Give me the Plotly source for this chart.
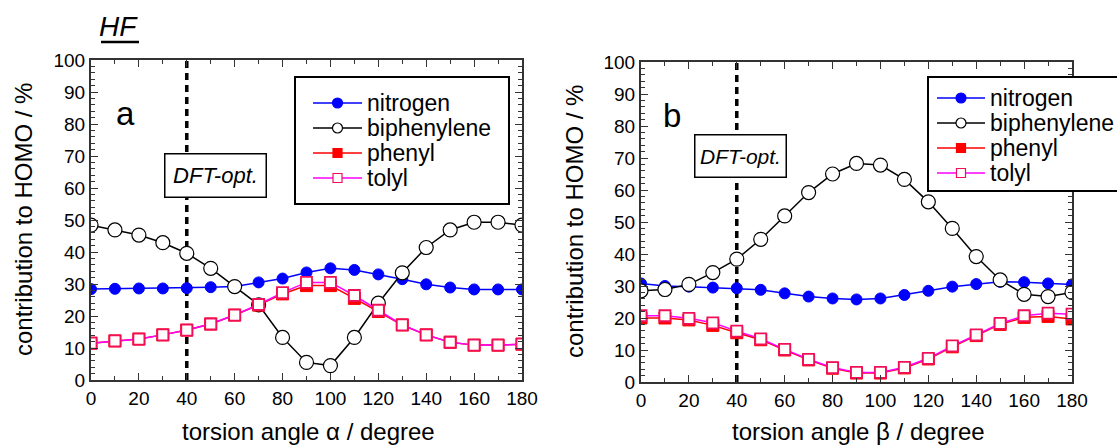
import plotly.graph_objects as go

# torsion angles (degrees)
angle = list(range(0, 181, 10))

# panel a: contribution to HOMO (%) vs torsion angle alpha
a_nitrogen = [28.4, 28.5, 28.6, 28.6, 28.7, 29.0, 29.2, 30.5, 31.7, 33.6, 34.9,
              34.4, 33.0, 31.5, 29.9, 28.9, 28.3, 28.3, 28.3]
a_biphenylene = [48.4, 46.9, 45.3, 42.9, 39.6, 34.9, 29.2, 23.5, 13.3, 5.5, 4.5,
                 13.3, 24.0, 33.5, 41.4, 46.9, 49.3, 49.3, 48.4]
a_phenyl = [11.5, 12.2, 12.8, 14.1, 15.6, 17.5, 20.3, 23.4, 26.9, 29.5, 29.5,
            25.5, 21.4, 17.2, 14.1, 11.8, 10.9, 10.9, 11.2]
a_tolyl = [11.5, 12.2, 12.8, 14.1, 15.6, 17.5, 20.3, 23.6, 27.3, 30.5, 30.5,
           26.4, 21.8, 17.2, 14.1, 11.8, 10.9, 10.9, 11.2]

# panel b: contribution to HOMO (%) vs torsion angle beta
b_nitrogen = [30.8, 30.0, 29.8, 29.5, 29.3, 28.8, 27.7, 26.7, 26.1, 25.8, 26.1,
              27.2, 28.5, 29.8, 30.6, 31.3, 31.2, 30.8, 30.5]
b_biphenylene = [28.5, 28.9, 30.5, 34.2, 38.4, 44.6, 51.9, 59.2, 65.0, 68.3, 67.8,
                 63.3, 56.3, 48.0, 39.2, 31.9, 27.4, 26.7, 28.0]
b_phenyl = [20.0, 20.0, 19.4, 17.7, 15.4, 13.2, 10.0, 6.9, 4.3, 2.8, 2.8,
            4.4, 7.2, 11.0, 14.5, 18.0, 20.2, 20.5, 19.7]
b_tolyl = [20.7, 20.7, 19.9, 18.5, 15.9, 13.5, 10.2, 7.1, 4.5, 3.0, 3.0,
           4.6, 7.4, 11.3, 14.7, 18.3, 20.7, 21.5, 21.2]

series_names = ["nitrogen", "biphenylene", "phenyl", "tolyl"]
x_ticks = list(range(0, 181, 20))
y_ticks = list(range(0, 101, 10))
dft_opt_angle = 40

W, H = 1117, 448
FONT = "Liberation Sans, Arial, sans-serif"


def px(x):
    return x / W


def py(y):
    return 1 - y / H


styles = {
    "nitrogen": dict(line=dict(color="#0000ff", width=1.5),
                     marker=dict(symbol="circle", size=11, color="#0000ff",
                                 line=dict(color="#0000ff", width=1))),
    "biphenylene": dict(line=dict(color="#000000", width=1.5),
                        marker=dict(symbol="circle", size=14, color="#ffffff",
                                    line=dict(color="#000000", width=1.2))),
    "phenyl": dict(line=dict(color="#ff0000", width=1.5),
                   marker=dict(symbol="square", size=12, color="#ff0000",
                               line=dict(color="#ff0000", width=1))),
    "tolyl": dict(line=dict(color="#ff00ff", width=1.5),
                  marker=dict(symbol="square", size=11, color="#ffffff",
                              line=dict(color="#f0105a", width=1.8))),
}

fig = go.Figure()

panels = [
    ("x", "y", [a_nitrogen, a_biphenylene, a_phenyl, a_tolyl]),
    ("x2", "y2", [b_nitrogen, b_biphenylene, b_phenyl, b_tolyl]),
]

for xa, ya, series in panels:
    for name, vals in zip(series_names, series):
        fig.add_trace(go.Scatter(
            x=angle, y=vals, name=name, mode="lines+markers",
            xaxis=xa, yaxis=ya, showlegend=False, **styles[name]))

axis_common = dict(
    showline=True, linecolor="#333333", linewidth=2, mirror="ticks",
    ticks="inside", ticklen=7, tickwidth=1.3, tickcolor="#333333",
    showgrid=False, zeroline=False, automargin=False,
    tickfont=dict(family=FONT, size=19, color="#000000"),
)

x_common = dict(axis_common, range=[0, 180], tickvals=x_ticks,
                minor=dict(dtick=10, ticks="inside", ticklen=4,
                           tickcolor="#333333", tickwidth=1.2))
y_common = dict(axis_common, range=[0, 100], tickvals=y_ticks,
                minor=dict(dtick=2, ticks="inside", ticklen=4,
                           tickcolor="#333333", tickwidth=1.2))

fig.update_layout(
    xaxis=dict(x_common, domain=[px(91), px(522)], anchor="y"),
    yaxis=dict(y_common, domain=[py(380), py(60)], anchor="x"),
    xaxis2=dict(x_common, domain=[px(641), px(1072)], anchor="y2"),
    yaxis2=dict(y_common, domain=[py(382), py(62)], anchor="x2"),
)

# DFT-optimised geometry marker
for xa, ya in (("x", "y"), ("x2", "y2")):
    fig.add_shape(type="line", xref=xa, yref=f"{ya} domain",
                  x0=dft_opt_angle, x1=dft_opt_angle, y0=0, y1=1,
                  line=dict(color="#000000", width=3.5, dash="7px,5px"),
                  layer="below")


# legend boxes: frame, line sample, symbol and label for each series
def draw_legend(box, line_x, text_x, rows):
    x0, x1, y0, y1 = box
    fig.add_shape(type="rect", xref="paper", yref="paper",
                  x0=px(x0), x1=px(x1), y0=py(y1), y1=py(y0),
                  line=dict(color="#000000", width=2), fillcolor="#ffffff",
                  layer="above")
    lx0, lx1 = line_x
    mx = (lx0 + lx1) / 2
    for name, ry in zip(series_names, rows):
        st = styles[name]
        fig.add_shape(type="line", xref="paper", yref="paper",
                      x0=px(lx0), x1=px(lx1), y0=py(ry), y1=py(ry),
                      line=dict(color=st["line"]["color"], width=1.5),
                      layer="above")
        kind = "circle" if st["marker"]["symbol"] == "circle" else "rect"
        r = 5 if kind == "circle" else 4.5
        fig.add_shape(type=kind, xref="paper", yref="paper",
                      x0=px(mx - r), x1=px(mx + r), y0=py(ry + r), y1=py(ry - r),
                      fillcolor=st["marker"]["color"],
                      line=dict(color=st["marker"]["line"]["color"], width=1.2),
                      layer="above")
        fig.add_annotation(text=name, xref="paper", yref="paper",
                           x=px(text_x), y=py(ry), xanchor="left", yanchor="middle",
                           showarrow=False,
                           font=dict(family=FONT, size=23, color="#000000"))


draw_legend((295, 509, 77, 204), (313, 362), 365, [103, 128, 153, 178])
draw_legend((928, 1130, 77, 191), (937, 985), 988, [98, 123, 148, 173])

annotations = [
    dict(text="<i>DFT-opt.</i>", xref="x", yref="y", x=52.2, y=63.8,
         width=98, height=40, borderpad=1, font_size=22),
    dict(text="<i>DFT-opt.</i>", xref="x2", yref="y2", x=41.4, y=70.5,
         width=88, height=39, borderpad=1, font_size=21),
]
for ann in annotations:
    size = ann.pop("font_size")
    fig.add_annotation(showarrow=False, bgcolor="#ffffff",
                       bordercolor="#000000", borderwidth=1.5,
                       xanchor="center", yanchor="middle",
                       font=dict(family=FONT, size=size, color="#000000"), **ann)

fig.add_annotation(text="a", xref="x", yref="y", x=14.6, y=83.4,
                   xanchor="center", yanchor="middle", showarrow=False,
                   font=dict(family=FONT, size=33, color="#000000"))
fig.add_annotation(text="b", xref="x2", yref="y2", x=13.0, y=83.4,
                   xanchor="center", yanchor="middle", showarrow=False,
                   font=dict(family=FONT, size=33, color="#000000"))

fig.add_annotation(text="<i>HF</i>", xref="paper", yref="paper",
                   x=px(118), y=py(27), xanchor="center", yanchor="middle",
                   showarrow=False,
                   font=dict(family=FONT, size=28, color="#000000"))
fig.add_shape(type="line", xref="paper", yref="paper",
              x0=px(101), x1=px(139), y0=py(42), y1=py(42),
              line=dict(color="#000000", width=2.5))

title_font = dict(family=FONT, size=24, color="#000000")
axis_titles = [
    ("contribution to HOMO / %", 23, 220, -90),
    ("contribution to HOMO / %", 574, 222, -90),
    ("torsion angle \u03b1 / degree", 308, 431, 0),
    ("torsion angle \u03b2 / degree", 858, 431, 0),
]
for text, tx, ty, rot in axis_titles:
    fig.add_annotation(text=text, xref="paper", yref="paper",
                       x=px(tx), y=py(ty), xanchor="center", yanchor="middle",
                       textangle=rot, showarrow=False, font=title_font)

fig.update_layout(
    width=W, height=H,
    margin=dict(l=0, r=0, t=0, b=0, autoexpand=False),
    paper_bgcolor="#ffffff", plot_bgcolor="#ffffff",
    font=dict(family=FONT, color="#000000"),
    showlegend=False,
)

fig.write_html("out.html")
